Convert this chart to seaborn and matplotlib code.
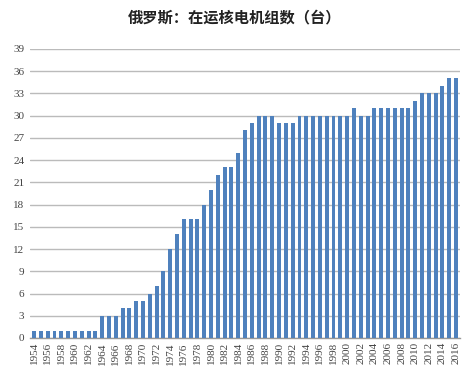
import matplotlib
matplotlib.use("Agg")
import matplotlib.pyplot as plt
import seaborn as sns
import pandas as pd

years = list(range(1954, 2017))
units = [1, 1, 1, 1, 1, 1, 1, 1, 1, 1,
         3, 3, 3, 4, 4, 5, 5, 6, 7, 9,
         12, 14, 16, 16, 16, 18, 20, 22, 23, 23,
         25, 28, 29, 30, 30, 30, 29, 29, 29, 30,
         30, 30, 30, 30, 30, 30, 30, 31, 30, 30,
         31, 31, 31, 31, 31, 31, 32, 33, 33, 33,
         34, 35, 35]
title = "俄罗斯：在运核电机组数（台）"
yticks = list(range(0, 40, 3))

sns.set_theme(style="white")
plt.rcParams['font.family'] = ['Liberation Serif', 'DejaVu Serif']

df = pd.DataFrame({"year": [str(y) for y in years], "units": units})

fig = plt.figure(figsize=(4.69, 3.83), dpi=100)
ax = fig.add_axes([0.064, 0.1175, 0.917, 0.755])
ax.set_axisbelow(True)
ax.yaxis.grid(True, color="#BBBBBB", linewidth=1)
sns.barplot(data=df, x="year", y="units", color="#4F81BD", width=0.58,
            saturation=1, ax=ax, linewidth=0, edgecolor="none")
for p in ax.patches:
    p.set_zorder(3)

ax.set_ylim(0, 39)
ax.set_yticks(yticks)
ax.set_yticklabels([str(v) for v in yticks], fontsize=8)
ax.yaxis.grid(True, color="#BBBBBB", linewidth=1, zorder=0)
ax.set_xlim(-0.6, len(years) - 0.4)
ax.set_xticks(range(0, len(years), 2))
ax.set_xticklabels([str(y) for y in years[::2]], rotation=90, fontsize=8)
ax.tick_params(axis='x', length=0, pad=3, colors="#444444")
ax.tick_params(axis='y', length=0, pad=4, colors="#444444")
ax.set_xlabel("")
ax.set_ylabel("")
for s in ["top", "right", "left"]:
    ax.spines[s].set_visible(False)
ax.spines["bottom"].set_color("#999999")
ax.spines["bottom"].set_linewidth(1)

fig.text(0.5, 0.955, title, ha="center", va="center", fontsize=11,
         fontweight="bold", family=["Noto Sans CJK SC", "DejaVu Sans"], color="#222222")

fig.savefig("out.png", dpi=100)
